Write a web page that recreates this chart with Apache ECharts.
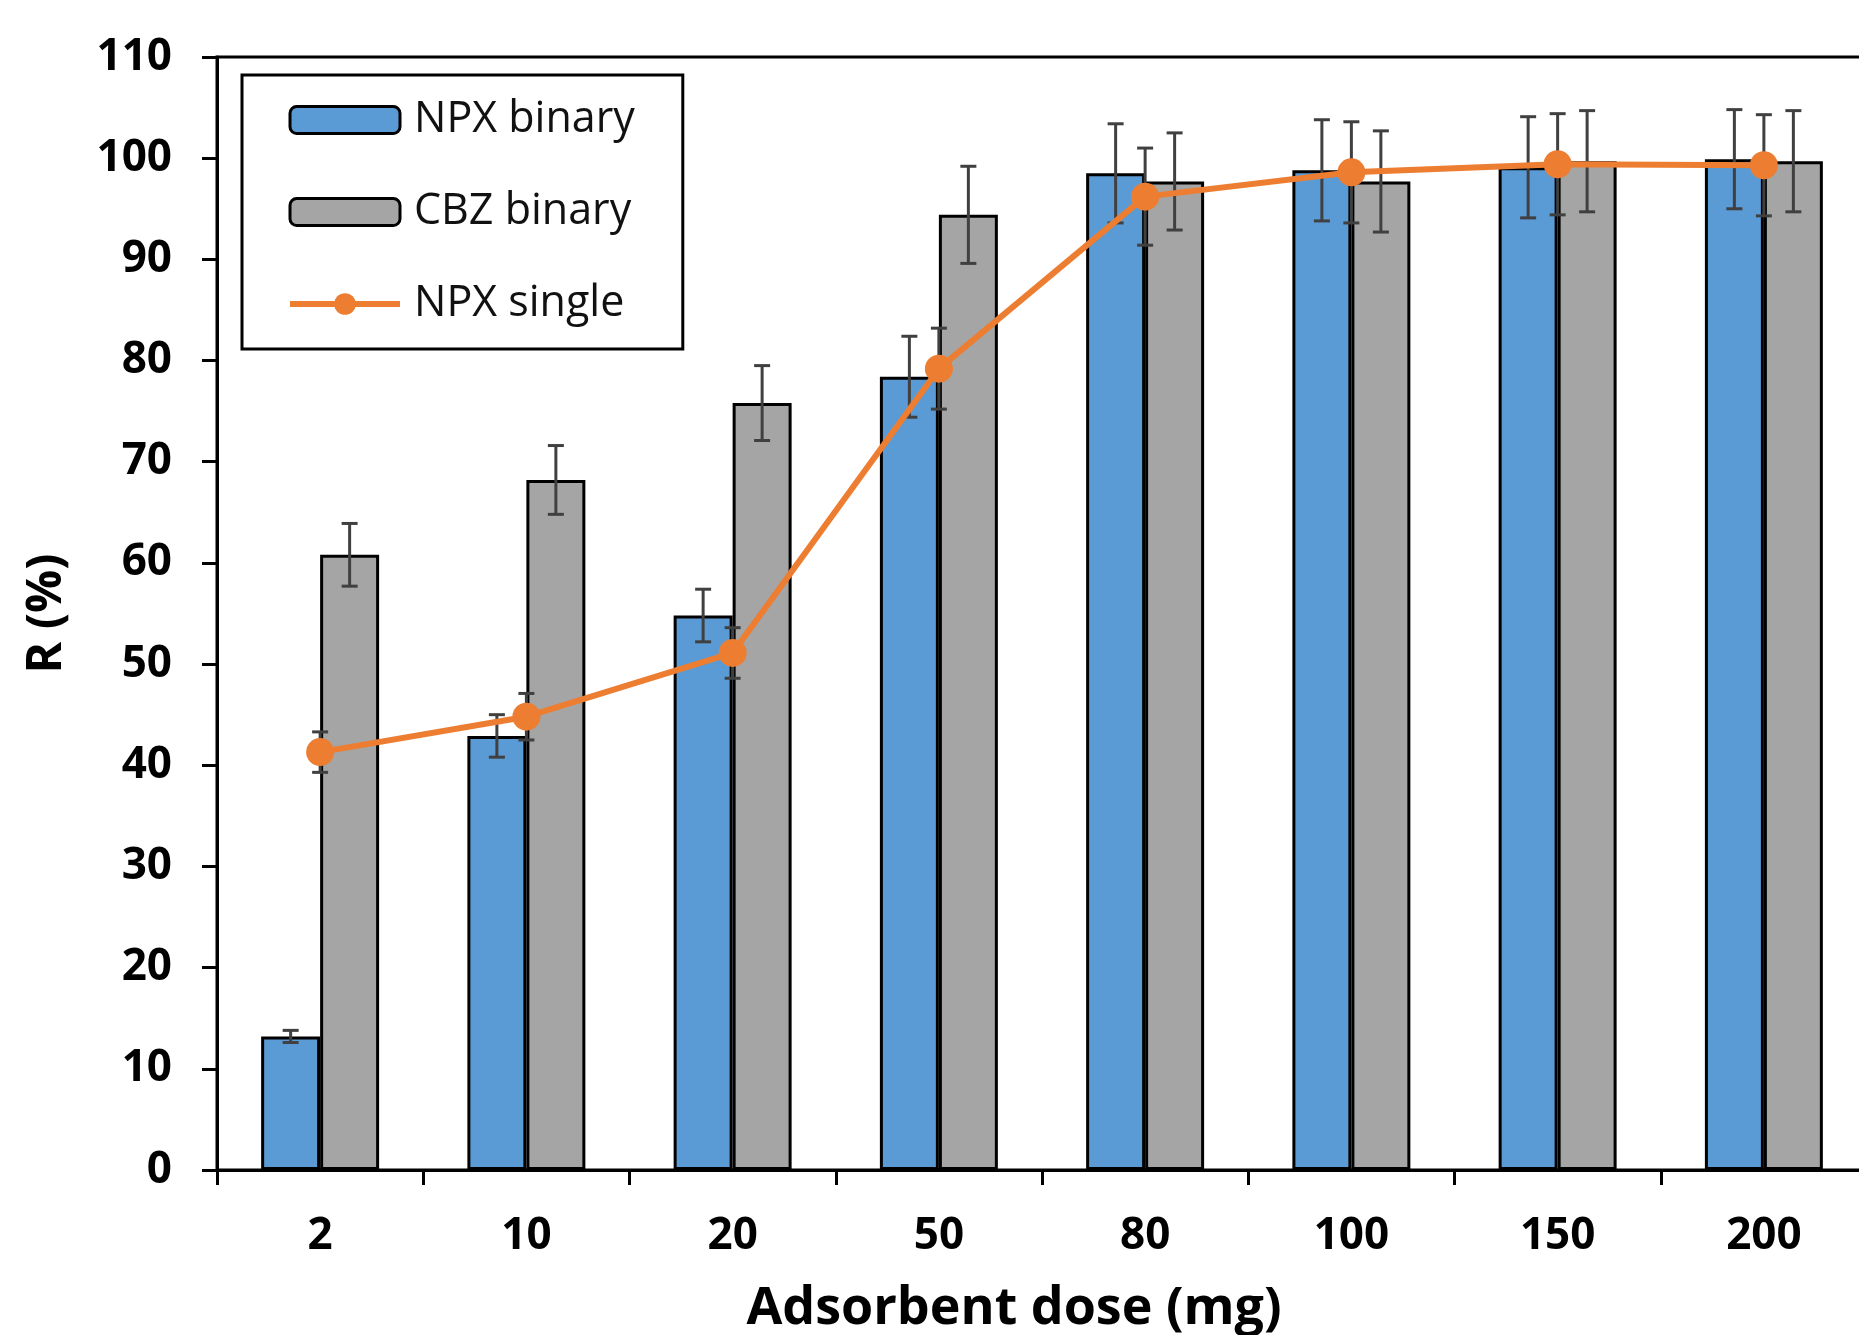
<!DOCTYPE html>
<html>
<head>
<meta charset="utf-8">
<title>Adsorbent dose</title>
<script src="https://cdn.jsdelivr.net/npm/echarts@6/dist/echarts.min.js"></script>
<style>
  html, body { margin: 0; padding: 0; background: #fff; }
  #chart { width: 1859px; height: 1335px; }
</style>
</head>
<body>
<div id="chart"></div>
<script>
// doses on x axis
var doses = ['2', '10', '20', '50', '80', '100', '150', '200'];

// removal %
var npxBinary = [13.2, 42.9, 54.8, 78.4, 98.5, 98.8, 99.1, 99.9];
var npxBinaryErr = [0.6, 2.1, 2.6, 4.0, 4.9, 5.0, 5.0, 4.9];

var cbzBinary = [60.8, 68.2, 75.8, 94.4, 97.7, 97.7, 99.7, 99.7];
var cbzBinaryErr = [3.1, 3.4, 3.7, 4.8, 4.8, 5.0, 5.0, 5.0];

var npxSingle = [41.3, 44.8, 51.1, 79.2, 96.2, 98.6, 99.4, 99.3];
var npxSingleErr = [2.0, 2.3, 2.5, 4.0, 4.8, 5.0, 5.0, 5.0];

var yTicks = [0, 10, 20, 30, 40, 50, 60, 70, 80, 90, 100, 110];

var myChart = echarts.init(document.getElementById('chart'));

var FONT = '"Open Sans", "Noto Sans", sans-serif';
var barFrac = 0.286;

// error bar data: [index, value, err]
function errData(vals, errs) {
    var out = [];
    for (var i = 0; i < vals.length; i++) {
        out.push([i, vals[i], errs[i]]);
    }
    return out;
}

// draws a vertical error bar with caps, shifted by a fraction of the band
function errRender(shift) {
    return function (params, api) {
        var i = api.value(0);
        var band = api.size([1, 0])[0];
        var cx = api.coord([i, 0])[0] + shift * band;
        var v = api.value(1), e = api.value(2);
        var top = api.coord([i, v + e])[1];
        var bot = api.coord([i, v - e])[1];
        var cap = 8;
        var st = { stroke: '#404040', lineWidth: 3 };
        return {
            type: 'group',
            children: [
                { type: 'line', shape: { x1: cx, y1: top, x2: cx, y2: bot }, style: st },
                { type: 'line', shape: { x1: cx - cap, y1: top, x2: cx + cap, y2: top }, style: st },
                { type: 'line', shape: { x1: cx - cap, y1: bot, x2: cx + cap, y2: bot }, style: st }
            ]
        };
    };
}

var option = {
    backgroundColor: '#fff',
    animation: false,
    grid: {
        left: 217,
        top: 57,
        width: 1650,
        height: 1113,
        containLabel: false,
        outerBoundsMode: 'none',
        show: true,
        borderColor: '#000',
        borderWidth: 3,
        backgroundColor: 'transparent'
    },
    legend: {
        orient: 'vertical',
        left: 242,
        top: 75,
        padding: [23, 48, 23, 45],
        itemGap: 48,
        itemWidth: 110,
        itemHeight: 27,
        borderColor: '#000',
        borderWidth: 3,
        backgroundColor: '#fff',
        textStyle: { fontFamily: FONT, fontSize: 43, color: '#111', lineHeight: 44, padding: [0, 0, 0, 9] },
        data: [
            { name: 'NPX binary', itemStyle: { borderWidth: 3 } },
            { name: 'CBZ binary', itemStyle: { borderWidth: 3 } },
            { name: 'NPX single', lineStyle: { width: 6 } }
        ]
    },
    xAxis: {
        type: 'category',
        data: doses,
        name: 'Adsorbent dose (mg)',
        nameLocation: 'middle',
        nameGap: 113,
        nameTextStyle: { fontFamily: FONT, fontSize: 52, fontWeight: 'bold', color: '#000', padding: [0, 56, 0, 0] },
        axisLine: { lineStyle: { color: '#000', width: 3 } },
        axisTick: { show: true, length: 15, lineStyle: { color: '#000', width: 3 } },
        axisLabel: { fontFamily: FONT, fontSize: 44, fontWeight: 'bold', color: '#000', margin: 44 },
        splitLine: { show: false }
    },
    yAxis: {
        type: 'value',
        min: yTicks[0],
        max: yTicks[yTicks.length - 1],
        interval: 10,
        name: 'R (%)',
        nameLocation: 'middle',
        nameGap: 146,
        nameTextStyle: { fontFamily: FONT, fontSize: 48, fontWeight: 'bold', color: '#000' },
        axisLine: { show: true, lineStyle: { color: '#000', width: 3 } },
        axisTick: { show: true, length: 15, lineStyle: { color: '#000', width: 3 } },
        axisLabel: { fontFamily: FONT, fontSize: 44, fontWeight: 'bold', color: '#000', margin: 45 },
        splitLine: { show: false }
    },
    series: [
        {
            name: 'NPX binary',
            type: 'bar',
            data: npxBinary,
            barWidth: (barFrac * 100) + '%',
            barGap: '0%',
            itemStyle: { color: '#5B9BD5', borderColor: '#000', borderWidth: 3 },
            z: 2
        },
        {
            name: 'CBZ binary',
            type: 'bar',
            data: cbzBinary,
            barWidth: (barFrac * 100) + '%',
            barGap: '0%',
            itemStyle: { color: '#A5A5A5', borderColor: '#000', borderWidth: 3 },
            z: 2
        },
        {
            name: 'npxBinaryErr',
            type: 'custom',
            data: errData(npxBinary, npxBinaryErr),
            encode: { x: 0, y: 1 },
            renderItem: errRender(-barFrac / 2),
            z: 3,
            silent: true
        },
        {
            name: 'cbzBinaryErr',
            type: 'custom',
            data: errData(cbzBinary, cbzBinaryErr),
            encode: { x: 0, y: 1 },
            renderItem: errRender(barFrac / 2),
            z: 3,
            silent: true
        },
        {
            name: 'npxSingleErr',
            type: 'custom',
            data: errData(npxSingle, npxSingleErr),
            encode: { x: 0, y: 1 },
            renderItem: errRender(0),
            z: 3,
            silent: true
        },
        {
            name: 'NPX single',
            type: 'line',
            data: npxSingle,
            symbol: 'circle',
            symbolSize: 28,
            lineStyle: { color: '#ED7D31', width: 6 },
            itemStyle: { color: '#ED7D31' },
            z: 4
        }
    ]
};

myChart.setOption(option);
</script>
</body>
</html>
